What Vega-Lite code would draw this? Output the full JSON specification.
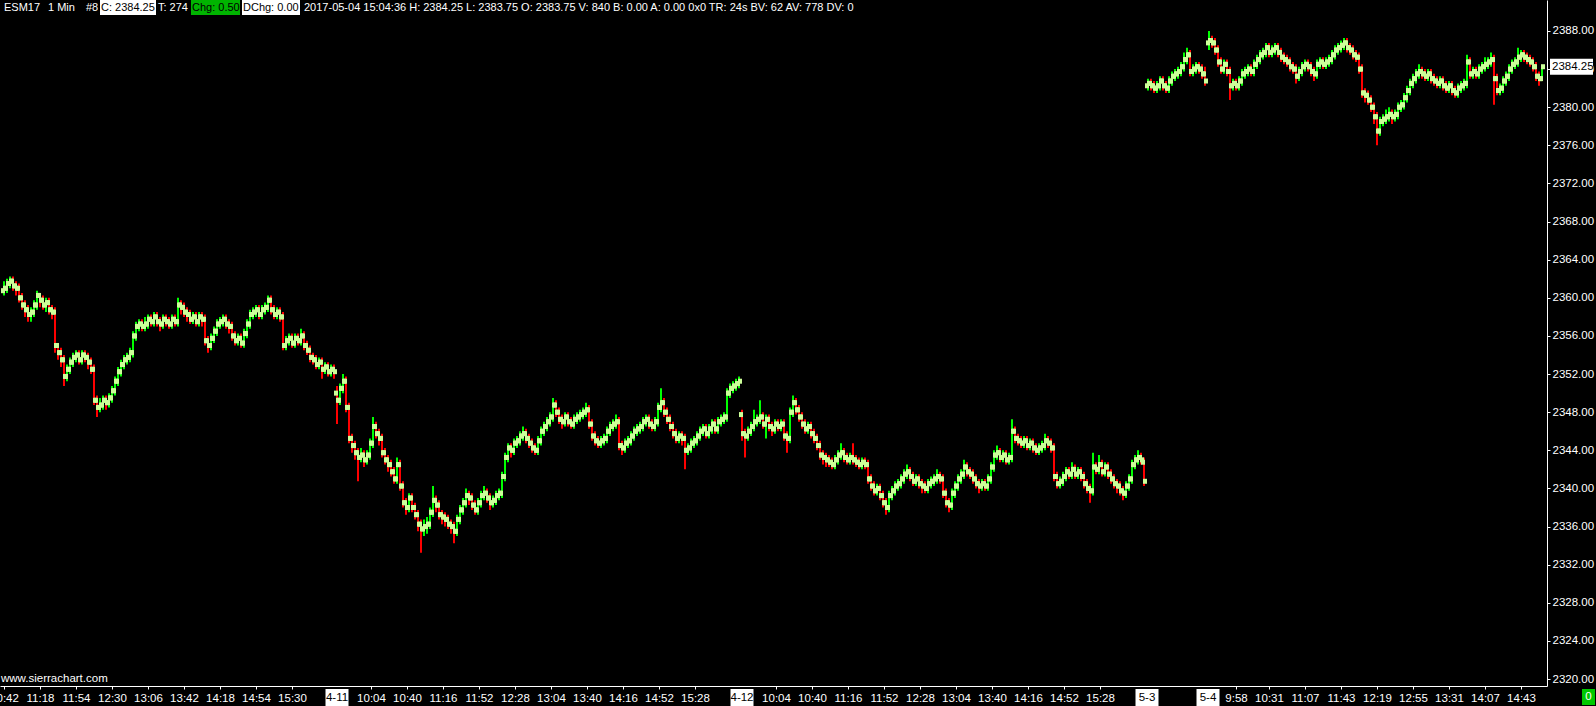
{
"$schema":"https://vega.github.io/schema/vega-lite/v6.json",
"width":1547,"height":686,
"padding":{"left":0,"top":0,"right":49,"bottom":20},
"autosize":{"type":"none"},
"background":"#000000",
"config":{"view":{"stroke":null},"font":"Liberation Sans","text":{"font":"Liberation Sans"}},
"datasets":{"bars":[
{"i":4,"o":2360.75,"h":2361.75,"l":2360.25,"c":2361},
{"i":7,"o":2361,"h":2362,"l":2360.5,"c":2361.5},
{"i":10,"o":2361.5,"h":2362.25,"l":2361,"c":2361.75},
{"i":13,"o":2361.75,"h":2362.25,"l":2360.75,"c":2361.25},
{"i":16,"o":2361.25,"h":2361.75,"l":2360.25,"c":2361},
{"i":19,"o":2361,"h":2361.5,"l":2359.5,"c":2360},
{"i":22,"o":2360,"h":2360.5,"l":2358.75,"c":2359.25},
{"i":25,"o":2359.25,"h":2359.75,"l":2358,"c":2358.75},
{"i":28,"o":2358.75,"h":2359.25,"l":2357.5,"c":2358.25},
{"i":31,"o":2358.25,"h":2359,"l":2357.5,"c":2358.5},
{"i":34,"o":2358.5,"h":2359.75,"l":2358,"c":2359.25},
{"i":37,"o":2359.25,"h":2360.75,"l":2358.75,"c":2360.25},
{"i":40,"o":2360.25,"h":2360.5,"l":2359,"c":2359.75},
{"i":43,"o":2359.75,"h":2360.25,"l":2358.75,"c":2359.25},
{"i":46,"o":2359.25,"h":2360,"l":2358.5,"c":2359.5},
{"i":49,"o":2359.5,"h":2360,"l":2358.25,"c":2358.75},
{"i":52,"o":2358.75,"h":2359.25,"l":2357.75,"c":2358.5},
{"i":55,"o":2358.5,"h":2359,"l":2354.25,"c":2355},
{"i":58,"o":2355,"h":2355.25,"l":2353.5,"c":2354.25},
{"i":61,"o":2354.25,"h":2354.75,"l":2352.75,"c":2353.5},
{"i":64,"o":2353.5,"h":2354,"l":2350.75,"c":2351.75},
{"i":67,"o":2351.75,"h":2353,"l":2351.25,"c":2352.5},
{"i":70,"o":2352.5,"h":2353.75,"l":2352,"c":2353.25},
{"i":73,"o":2353.25,"h":2354.25,"l":2352.75,"c":2353.75},
{"i":76,"o":2353.75,"h":2354.5,"l":2353.25,"c":2354},
{"i":79,"o":2354,"h":2354.5,"l":2353,"c":2353.5},
{"i":82,"o":2353.5,"h":2354.5,"l":2353,"c":2354},
{"i":85,"o":2354,"h":2354.5,"l":2353.25,"c":2353.75},
{"i":88,"o":2353.75,"h":2354.25,"l":2352.5,"c":2353.25},
{"i":91,"o":2353.25,"h":2353.75,"l":2352,"c":2352.5},
{"i":94,"o":2352.5,"h":2353,"l":2348.75,"c":2349.25},
{"i":97,"o":2349.25,"h":2349.75,"l":2347.5,"c":2348.5},
{"i":100,"o":2348.5,"h":2349.5,"l":2348,"c":2348.75},
{"i":103,"o":2348.75,"h":2349.75,"l":2348.25,"c":2349.25},
{"i":106,"o":2349.25,"h":2349.75,"l":2348.25,"c":2349},
{"i":109,"o":2349,"h":2350,"l":2348.5,"c":2349.5},
{"i":112,"o":2349.5,"h":2350.75,"l":2349,"c":2350.25},
{"i":115,"o":2350.25,"h":2351.75,"l":2349.75,"c":2351.25},
{"i":118,"o":2351.25,"h":2352.75,"l":2350.75,"c":2352.25},
{"i":121,"o":2352.25,"h":2353.5,"l":2351.75,"c":2353},
{"i":124,"o":2353,"h":2354,"l":2352.5,"c":2353.5},
{"i":127,"o":2353.5,"h":2354.25,"l":2353,"c":2353.75},
{"i":130,"o":2353.75,"h":2354.75,"l":2353.25,"c":2354.25},
{"i":133,"o":2354.25,"h":2356.5,"l":2353.75,"c":2356},
{"i":136,"o":2356,"h":2357.5,"l":2355.5,"c":2357},
{"i":139,"o":2357,"h":2357.75,"l":2356.5,"c":2357.25},
{"i":142,"o":2357.25,"h":2357.75,"l":2356.5,"c":2357},
{"i":145,"o":2357,"h":2358,"l":2356.5,"c":2357.25},
{"i":148,"o":2357.25,"h":2358.25,"l":2356.75,"c":2357.75},
{"i":151,"o":2357.75,"h":2358.25,"l":2357,"c":2357.5},
{"i":154,"o":2357.5,"h":2358.5,"l":2357,"c":2358},
{"i":157,"o":2358,"h":2358.5,"l":2357,"c":2357.5},
{"i":160,"o":2357.5,"h":2358,"l":2356.5,"c":2357.25},
{"i":163,"o":2357.25,"h":2358.25,"l":2356.75,"c":2357.75},
{"i":166,"o":2357.75,"h":2358.25,"l":2357,"c":2357.5},
{"i":169,"o":2357.5,"h":2358,"l":2356.75,"c":2357.25},
{"i":172,"o":2357.25,"h":2358.25,"l":2356.75,"c":2357.75},
{"i":175,"o":2357.75,"h":2358.25,"l":2357,"c":2357.5},
{"i":178,"o":2357.5,"h":2360,"l":2357,"c":2359.25},
{"i":181,"o":2359.25,"h":2359.75,"l":2358.25,"c":2359},
{"i":184,"o":2359,"h":2359.5,"l":2358,"c":2358.5},
{"i":187,"o":2358.5,"h":2359,"l":2357.5,"c":2358.25},
{"i":190,"o":2358.25,"h":2358.75,"l":2357.25,"c":2357.75},
{"i":193,"o":2357.75,"h":2358.5,"l":2357.25,"c":2358},
{"i":196,"o":2358,"h":2358.5,"l":2357,"c":2357.5},
{"i":199,"o":2357.5,"h":2358.5,"l":2357,"c":2358},
{"i":202,"o":2358,"h":2358.5,"l":2357,"c":2357.75},
{"i":205,"o":2357.75,"h":2358.25,"l":2355,"c":2355.5},
{"i":208,"o":2355.5,"h":2356,"l":2354.25,"c":2355},
{"i":211,"o":2355,"h":2356.25,"l":2354.5,"c":2355.75},
{"i":214,"o":2355.75,"h":2357,"l":2355.25,"c":2356.5},
{"i":217,"o":2356.5,"h":2357.75,"l":2356,"c":2357.25},
{"i":220,"o":2357.25,"h":2358,"l":2356.75,"c":2357.5},
{"i":223,"o":2357.5,"h":2358.25,"l":2357,"c":2357.75},
{"i":226,"o":2357.75,"h":2358.25,"l":2356.75,"c":2357.25},
{"i":229,"o":2357.25,"h":2357.75,"l":2356.25,"c":2357},
{"i":232,"o":2357,"h":2357.5,"l":2355.5,"c":2356},
{"i":235,"o":2356,"h":2356.5,"l":2355,"c":2355.5},
{"i":238,"o":2355.5,"h":2356.25,"l":2355,"c":2355.75},
{"i":241,"o":2355.75,"h":2356.25,"l":2354.75,"c":2355.25},
{"i":244,"o":2355.25,"h":2356.75,"l":2354.75,"c":2356.25},
{"i":247,"o":2356.25,"h":2357.75,"l":2355.75,"c":2357.25},
{"i":250,"o":2357.25,"h":2358.75,"l":2356.75,"c":2358.25},
{"i":253,"o":2358.25,"h":2359,"l":2357.75,"c":2358.5},
{"i":256,"o":2358.5,"h":2359.25,"l":2358,"c":2358.75},
{"i":259,"o":2358.75,"h":2359.25,"l":2357.75,"c":2358.25},
{"i":262,"o":2358.25,"h":2359.25,"l":2357.75,"c":2358.75},
{"i":265,"o":2358.75,"h":2359.5,"l":2358.25,"c":2359},
{"i":268,"o":2359,"h":2360.25,"l":2358.5,"c":2359.75},
{"i":271,"o":2359.75,"h":2360.25,"l":2358.25,"c":2358.75},
{"i":274,"o":2358.75,"h":2359.25,"l":2357.75,"c":2358.25},
{"i":277,"o":2358.25,"h":2359,"l":2357.75,"c":2358.5},
{"i":280,"o":2358.5,"h":2359,"l":2357.5,"c":2358},
{"i":283,"o":2358,"h":2358.5,"l":2354.5,"c":2355},
{"i":286,"o":2355,"h":2356,"l":2354.5,"c":2355.5},
{"i":289,"o":2355.5,"h":2356.25,"l":2355,"c":2355.75},
{"i":292,"o":2355.75,"h":2356.25,"l":2354.75,"c":2355.25},
{"i":295,"o":2355.25,"h":2356.25,"l":2354.75,"c":2355.75},
{"i":298,"o":2355.75,"h":2356.25,"l":2355,"c":2355.5},
{"i":301,"o":2355.5,"h":2356.75,"l":2355,"c":2356},
{"i":304,"o":2356,"h":2356.5,"l":2354.5,"c":2355},
{"i":307,"o":2355,"h":2355.5,"l":2354,"c":2354.5},
{"i":310,"o":2354.5,"h":2355,"l":2353.25,"c":2353.75},
{"i":313,"o":2353.75,"h":2354.25,"l":2353,"c":2353.5},
{"i":316,"o":2353.5,"h":2354,"l":2352.5,"c":2353},
{"i":319,"o":2353,"h":2353.75,"l":2352.5,"c":2353.25},
{"i":322,"o":2353.25,"h":2353.75,"l":2351.5,"c":2352.5},
{"i":325,"o":2352.5,"h":2353.25,"l":2352,"c":2352.75},
{"i":328,"o":2352.75,"h":2353.25,"l":2351.75,"c":2352.25},
{"i":331,"o":2352.25,"h":2353,"l":2351.75,"c":2352.5},
{"i":334,"o":2352.5,"h":2353,"l":2351.5,"c":2352.25},
{"i":337,"o":2350,"h":2350.75,"l":2346.75,"c":2349.25},
{"i":340,"o":2349.25,"h":2351,"l":2348.75,"c":2350.5},
{"i":343,"o":2350.5,"h":2352,"l":2350,"c":2351.25},
{"i":346,"o":2351.25,"h":2351.75,"l":2348,"c":2348.5},
{"i":349,"o":2348.5,"h":2349,"l":2344.75,"c":2345.25},
{"i":352,"o":2345.25,"h":2345.75,"l":2343.75,"c":2344.5},
{"i":355,"o":2344.5,"h":2345,"l":2343,"c":2343.75},
{"i":358,"o":2343.75,"h":2344.25,"l":2340.75,"c":2343.25},
{"i":361,"o":2343.25,"h":2344.25,"l":2342.75,"c":2343.5},
{"i":364,"o":2343.5,"h":2344,"l":2342.25,"c":2343},
{"i":367,"o":2343,"h":2344,"l":2342.5,"c":2343.5},
{"i":370,"o":2343.5,"h":2345.25,"l":2343,"c":2344.75},
{"i":373,"o":2344.75,"h":2347.5,"l":2344.25,"c":2346.5},
{"i":376,"o":2346.5,"h":2347,"l":2345.25,"c":2345.75},
{"i":379,"o":2345.75,"h":2346.25,"l":2344.5,"c":2345.25},
{"i":382,"o":2345.25,"h":2345.75,"l":2343.25,"c":2343.75},
{"i":385,"o":2343.75,"h":2344.25,"l":2342.5,"c":2343},
{"i":388,"o":2343,"h":2343.5,"l":2341.75,"c":2342.5},
{"i":391,"o":2342.5,"h":2343,"l":2341.25,"c":2341.75},
{"i":394,"o":2341.75,"h":2342.25,"l":2340.5,"c":2341},
{"i":397,"o":2341,"h":2343.25,"l":2340.5,"c":2342.5},
{"i":400,"o":2342.5,"h":2343,"l":2339.75,"c":2340.25},
{"i":403,"o":2340.25,"h":2340.75,"l":2338,"c":2338.5},
{"i":406,"o":2338.5,"h":2339,"l":2337.25,"c":2338},
{"i":409,"o":2338,"h":2339.5,"l":2337.5,"c":2339},
{"i":412,"o":2339,"h":2339.5,"l":2337.5,"c":2338},
{"i":415,"o":2338,"h":2338.5,"l":2336.75,"c":2337.25},
{"i":418,"o":2337.25,"h":2337.75,"l":2335.5,"c":2336.25},
{"i":421,"o":2336.25,"h":2336.75,"l":2333.25,"c":2335.75},
{"i":424,"o":2335.75,"h":2336.75,"l":2335,"c":2336},
{"i":427,"o":2336,"h":2337,"l":2335.25,"c":2336.25},
{"i":430,"o":2336.25,"h":2338,"l":2335.75,"c":2337.5},
{"i":433,"o":2337.5,"h":2340.25,"l":2337,"c":2338.75},
{"i":436,"o":2338.75,"h":2339.25,"l":2337.5,"c":2338.25},
{"i":439,"o":2338.25,"h":2338.75,"l":2336.75,"c":2337.25},
{"i":442,"o":2337.25,"h":2337.75,"l":2336.25,"c":2337},
{"i":445,"o":2337,"h":2337.5,"l":2336,"c":2336.75},
{"i":448,"o":2336.75,"h":2337.25,"l":2335.75,"c":2336.25},
{"i":451,"o":2336.25,"h":2336.75,"l":2335.25,"c":2336},
{"i":454,"o":2336,"h":2336.5,"l":2334.25,"c":2335.5},
{"i":457,"o":2335.5,"h":2337.25,"l":2335,"c":2336.75},
{"i":460,"o":2336.75,"h":2338.25,"l":2336.25,"c":2337.75},
{"i":463,"o":2337.75,"h":2339,"l":2337.25,"c":2338.5},
{"i":466,"o":2338.5,"h":2340,"l":2338,"c":2339.25},
{"i":469,"o":2339.25,"h":2339.75,"l":2338.25,"c":2339},
{"i":472,"o":2339,"h":2339.5,"l":2337.75,"c":2338.25},
{"i":475,"o":2338.25,"h":2338.75,"l":2337.25,"c":2337.75},
{"i":478,"o":2337.75,"h":2339,"l":2337.25,"c":2338.5},
{"i":481,"o":2338.5,"h":2339.75,"l":2338,"c":2339.25},
{"i":484,"o":2339.25,"h":2340.25,"l":2338.75,"c":2339.5},
{"i":487,"o":2339.5,"h":2340,"l":2338.5,"c":2339},
{"i":490,"o":2339,"h":2339.5,"l":2337.75,"c":2338.5},
{"i":493,"o":2338.5,"h":2339.25,"l":2338,"c":2338.75},
{"i":496,"o":2338.75,"h":2339.75,"l":2338.25,"c":2339.25},
{"i":499,"o":2339.25,"h":2340,"l":2338.75,"c":2339.5},
{"i":502,"o":2339.5,"h":2341.75,"l":2339,"c":2341.25},
{"i":505,"o":2341.25,"h":2343.75,"l":2340.75,"c":2343.25},
{"i":508,"o":2343.25,"h":2344.75,"l":2342.75,"c":2344.25},
{"i":511,"o":2344.25,"h":2344.75,"l":2343.25,"c":2344},
{"i":514,"o":2344,"h":2345.25,"l":2343.5,"c":2344.75},
{"i":517,"o":2344.75,"h":2345.5,"l":2344.25,"c":2345},
{"i":520,"o":2345,"h":2346,"l":2344.5,"c":2345.5},
{"i":523,"o":2345.5,"h":2346.5,"l":2345,"c":2345.75},
{"i":526,"o":2345.75,"h":2346.25,"l":2344.75,"c":2345.25},
{"i":529,"o":2345.25,"h":2345.75,"l":2344.25,"c":2344.75},
{"i":532,"o":2344.75,"h":2345.25,"l":2343.75,"c":2344.25},
{"i":535,"o":2344.25,"h":2344.75,"l":2343.5,"c":2344},
{"i":538,"o":2344,"h":2345.5,"l":2343.5,"c":2345},
{"i":541,"o":2345,"h":2346.5,"l":2344.5,"c":2346},
{"i":544,"o":2346,"h":2347,"l":2345.5,"c":2346.5},
{"i":547,"o":2346.5,"h":2347.5,"l":2346,"c":2347},
{"i":550,"o":2347,"h":2348,"l":2346.5,"c":2347.5},
{"i":553,"o":2347.5,"h":2349.5,"l":2347,"c":2348.75},
{"i":556,"o":2348.75,"h":2349.25,"l":2347.5,"c":2348},
{"i":559,"o":2348,"h":2348.5,"l":2346.75,"c":2347.25},
{"i":562,"o":2347.25,"h":2347.75,"l":2346.25,"c":2347},
{"i":565,"o":2347,"h":2348,"l":2346.5,"c":2347.5},
{"i":568,"o":2347.5,"h":2348,"l":2346.5,"c":2347},
{"i":571,"o":2347,"h":2347.5,"l":2346.25,"c":2346.75},
{"i":574,"o":2346.75,"h":2347.75,"l":2346.25,"c":2347.25},
{"i":577,"o":2347.25,"h":2348,"l":2346.75,"c":2347.5},
{"i":580,"o":2347.5,"h":2348.25,"l":2347,"c":2347.75},
{"i":583,"o":2347.75,"h":2348.5,"l":2347.25,"c":2348},
{"i":586,"o":2348,"h":2349,"l":2347.5,"c":2348.25},
{"i":589,"o":2348.25,"h":2348.75,"l":2346.25,"c":2346.75},
{"i":592,"o":2346.75,"h":2347.25,"l":2345,"c":2345.5},
{"i":595,"o":2345.5,"h":2346,"l":2344.5,"c":2345},
{"i":598,"o":2345,"h":2345.5,"l":2344.25,"c":2344.75},
{"i":601,"o":2344.75,"h":2345.5,"l":2344.25,"c":2345},
{"i":604,"o":2345,"h":2345.75,"l":2344.5,"c":2345.25},
{"i":607,"o":2345.25,"h":2346.5,"l":2344.75,"c":2346},
{"i":610,"o":2346,"h":2347,"l":2345.5,"c":2346.5},
{"i":613,"o":2346.5,"h":2347.25,"l":2346,"c":2346.75},
{"i":616,"o":2346.75,"h":2347.75,"l":2346.25,"c":2347},
{"i":619,"o":2347,"h":2347.5,"l":2344,"c":2344.5},
{"i":622,"o":2344.5,"h":2345,"l":2343.5,"c":2344.25},
{"i":625,"o":2344.25,"h":2345.25,"l":2343.75,"c":2344.75},
{"i":628,"o":2344.75,"h":2345.5,"l":2344.25,"c":2345},
{"i":631,"o":2345,"h":2346,"l":2344.5,"c":2345.5},
{"i":634,"o":2345.5,"h":2346.5,"l":2345,"c":2346},
{"i":637,"o":2346,"h":2346.75,"l":2345.5,"c":2346.25},
{"i":640,"o":2346.25,"h":2347,"l":2345.75,"c":2346.5},
{"i":643,"o":2346.5,"h":2347.5,"l":2346,"c":2347},
{"i":646,"o":2347,"h":2347.75,"l":2346.5,"c":2347.25},
{"i":649,"o":2347.25,"h":2347.75,"l":2346.25,"c":2346.75},
{"i":652,"o":2346.75,"h":2347.25,"l":2346,"c":2346.5},
{"i":655,"o":2346.5,"h":2347.5,"l":2346,"c":2347},
{"i":658,"o":2347,"h":2349,"l":2346.5,"c":2348.5},
{"i":661,"o":2348.5,"h":2350.5,"l":2348,"c":2349},
{"i":664,"o":2349,"h":2349.5,"l":2347.5,"c":2348},
{"i":667,"o":2348,"h":2348.5,"l":2346.75,"c":2347.25},
{"i":670,"o":2347.25,"h":2347.75,"l":2346,"c":2346.5},
{"i":673,"o":2346.5,"h":2347,"l":2345.25,"c":2345.75},
{"i":676,"o":2345.75,"h":2346.25,"l":2344.75,"c":2345.25},
{"i":679,"o":2345.25,"h":2346,"l":2344.75,"c":2345.5},
{"i":682,"o":2345.5,"h":2346,"l":2344.5,"c":2345.25},
{"i":685,"o":2345.25,"h":2345.75,"l":2342,"c":2344},
{"i":688,"o":2344,"h":2344.75,"l":2343.5,"c":2344.25},
{"i":691,"o":2344.25,"h":2345.25,"l":2343.75,"c":2344.75},
{"i":694,"o":2344.75,"h":2345.5,"l":2344.25,"c":2345},
{"i":697,"o":2345,"h":2346,"l":2344.5,"c":2345.5},
{"i":700,"o":2345.5,"h":2346.5,"l":2345,"c":2346},
{"i":703,"o":2346,"h":2346.75,"l":2345.5,"c":2346.25},
{"i":706,"o":2346.25,"h":2346.75,"l":2345.25,"c":2345.75},
{"i":709,"o":2345.75,"h":2346.75,"l":2345.25,"c":2346.25},
{"i":712,"o":2346.25,"h":2347.25,"l":2345.75,"c":2346.75},
{"i":715,"o":2346.75,"h":2347.25,"l":2345.75,"c":2346.25},
{"i":718,"o":2346.25,"h":2347.5,"l":2345.75,"c":2347},
{"i":721,"o":2347,"h":2347.75,"l":2346.5,"c":2347.25},
{"i":724,"o":2347.25,"h":2348,"l":2346.75,"c":2347.5},
{"i":727,"o":2347.5,"h":2350.5,"l":2347,"c":2350},
{"i":730,"o":2350,"h":2351,"l":2349.5,"c":2350.5},
{"i":733,"o":2350.5,"h":2351.25,"l":2350,"c":2350.75},
{"i":736,"o":2350.75,"h":2351.5,"l":2350.25,"c":2351},
{"i":739,"o":2351,"h":2351.75,"l":2350.5,"c":2351.25},
{"i":742,"o":2347.75,"h":2348.25,"l":2345,"c":2345.75},
{"i":745,"o":2345.75,"h":2346.25,"l":2343.25,"c":2345.5},
{"i":748,"o":2345.5,"h":2346.5,"l":2345,"c":2346},
{"i":751,"o":2346,"h":2347,"l":2345.5,"c":2346.5},
{"i":754,"o":2346.5,"h":2348.25,"l":2346,"c":2347},
{"i":757,"o":2347,"h":2347.75,"l":2346.5,"c":2347.25},
{"i":760,"o":2347.25,"h":2349.25,"l":2346.75,"c":2347.5},
{"i":763,"o":2347.5,"h":2348,"l":2346.25,"c":2346.75},
{"i":766,"o":2346.75,"h":2347.75,"l":2345.25,"c":2347.25},
{"i":769,"o":2347.25,"h":2347.75,"l":2346,"c":2346.5},
{"i":772,"o":2346.5,"h":2347,"l":2345.5,"c":2346.25},
{"i":775,"o":2346.25,"h":2347.25,"l":2345.75,"c":2346.75},
{"i":778,"o":2346.75,"h":2347.25,"l":2346,"c":2346.5},
{"i":781,"o":2346.5,"h":2347.25,"l":2346,"c":2346.75},
{"i":784,"o":2346.75,"h":2347.25,"l":2345,"c":2345.5},
{"i":787,"o":2345.5,"h":2346,"l":2343.75,"c":2345.25},
{"i":790,"o":2345.25,"h":2348.5,"l":2344.75,"c":2348},
{"i":793,"o":2348,"h":2349.75,"l":2347.5,"c":2349},
{"i":796,"o":2349,"h":2349.5,"l":2347.75,"c":2348.25},
{"i":799,"o":2348.25,"h":2348.75,"l":2347,"c":2347.5},
{"i":802,"o":2347.5,"h":2348,"l":2346.25,"c":2346.75},
{"i":805,"o":2346.75,"h":2347.25,"l":2345.75,"c":2346.25},
{"i":808,"o":2346.25,"h":2347,"l":2345.75,"c":2346.5},
{"i":811,"o":2346.5,"h":2347,"l":2345.25,"c":2345.75},
{"i":814,"o":2345.75,"h":2346.25,"l":2344.75,"c":2345.25},
{"i":817,"o":2345.25,"h":2345.75,"l":2344,"c":2344.5},
{"i":820,"o":2344.5,"h":2345,"l":2343,"c":2343.5},
{"i":823,"o":2343.5,"h":2344,"l":2342.5,"c":2343.25},
{"i":826,"o":2343.25,"h":2343.75,"l":2342.25,"c":2343},
{"i":829,"o":2343,"h":2343.5,"l":2342.25,"c":2342.75},
{"i":832,"o":2342.75,"h":2343.25,"l":2342,"c":2342.5},
{"i":835,"o":2342.5,"h":2343.5,"l":2342,"c":2343},
{"i":838,"o":2343,"h":2344,"l":2342.5,"c":2343.5},
{"i":841,"o":2343.5,"h":2344.75,"l":2343,"c":2343.75},
{"i":844,"o":2343.75,"h":2344.25,"l":2342.75,"c":2343.25},
{"i":847,"o":2343.25,"h":2343.75,"l":2342.5,"c":2343},
{"i":850,"o":2343,"h":2343.75,"l":2342.5,"c":2343.25},
{"i":853,"o":2343.25,"h":2344.75,"l":2342.5,"c":2343},
{"i":856,"o":2343,"h":2343.5,"l":2342.25,"c":2342.75},
{"i":859,"o":2342.75,"h":2343.25,"l":2342,"c":2342.5},
{"i":862,"o":2342.5,"h":2343.25,"l":2342,"c":2342.75},
{"i":865,"o":2342.75,"h":2343.25,"l":2342,"c":2342.5},
{"i":868,"o":2342.5,"h":2343,"l":2340.5,"c":2341},
{"i":871,"o":2341,"h":2341.5,"l":2339.75,"c":2340.25},
{"i":874,"o":2340.25,"h":2340.75,"l":2339.25,"c":2339.75},
{"i":877,"o":2339.75,"h":2340.5,"l":2339.25,"c":2340},
{"i":880,"o":2340,"h":2340.5,"l":2338.75,"c":2339.25},
{"i":883,"o":2339.25,"h":2339.75,"l":2338,"c":2338.5},
{"i":886,"o":2338.5,"h":2339,"l":2337.25,"c":2338},
{"i":889,"o":2338,"h":2339.75,"l":2337.5,"c":2339.25},
{"i":892,"o":2339.25,"h":2340.25,"l":2338.75,"c":2339.75},
{"i":895,"o":2339.75,"h":2340.75,"l":2339.25,"c":2340.25},
{"i":898,"o":2340.25,"h":2341,"l":2339.75,"c":2340.5},
{"i":901,"o":2340.5,"h":2341.5,"l":2340,"c":2341},
{"i":904,"o":2341,"h":2342,"l":2340.5,"c":2341.5},
{"i":907,"o":2341.5,"h":2342.5,"l":2341,"c":2341.75},
{"i":910,"o":2341.75,"h":2342.25,"l":2340.75,"c":2341.25},
{"i":913,"o":2341.25,"h":2341.75,"l":2340.25,"c":2340.75},
{"i":916,"o":2340.75,"h":2341.5,"l":2340.25,"c":2341},
{"i":919,"o":2341,"h":2341.5,"l":2340,"c":2340.5},
{"i":922,"o":2340.5,"h":2341,"l":2339.5,"c":2340.25},
{"i":925,"o":2340.25,"h":2340.75,"l":2339.5,"c":2340},
{"i":928,"o":2340,"h":2341,"l":2339.5,"c":2340.5},
{"i":931,"o":2340.5,"h":2341.25,"l":2340,"c":2340.75},
{"i":934,"o":2340.75,"h":2341.5,"l":2340.25,"c":2341},
{"i":937,"o":2341,"h":2342,"l":2340.5,"c":2341.25},
{"i":940,"o":2341.25,"h":2341.75,"l":2340.5,"c":2341},
{"i":943,"o":2341,"h":2341.5,"l":2339,"c":2339.5},
{"i":946,"o":2339.5,"h":2340,"l":2338,"c":2338.5},
{"i":949,"o":2338.5,"h":2339,"l":2337.5,"c":2338.25},
{"i":952,"o":2338.25,"h":2340,"l":2337.75,"c":2339.5},
{"i":955,"o":2339.5,"h":2340.75,"l":2339,"c":2340.25},
{"i":958,"o":2340.25,"h":2341.5,"l":2339.75,"c":2341},
{"i":961,"o":2341,"h":2342,"l":2340.5,"c":2341.5},
{"i":964,"o":2341.5,"h":2343,"l":2341,"c":2342.25},
{"i":967,"o":2342.25,"h":2342.75,"l":2341.25,"c":2341.75},
{"i":970,"o":2341.75,"h":2342.25,"l":2341,"c":2341.5},
{"i":973,"o":2341.5,"h":2342,"l":2340.5,"c":2341},
{"i":976,"o":2341,"h":2341.5,"l":2340,"c":2340.5},
{"i":979,"o":2340.5,"h":2341,"l":2339.5,"c":2340.25},
{"i":982,"o":2340.25,"h":2341,"l":2339.75,"c":2340.5},
{"i":985,"o":2340.5,"h":2341,"l":2339.75,"c":2340.25},
{"i":988,"o":2340.25,"h":2341.5,"l":2339.75,"c":2341},
{"i":991,"o":2341,"h":2342.75,"l":2340.5,"c":2342.25},
{"i":994,"o":2342.25,"h":2344,"l":2341.75,"c":2343.5},
{"i":997,"o":2343.5,"h":2344.5,"l":2343,"c":2343.75},
{"i":1000,"o":2343.75,"h":2344.25,"l":2342.75,"c":2343.25},
{"i":1003,"o":2343.25,"h":2344,"l":2342.75,"c":2343.5},
{"i":1006,"o":2343.5,"h":2344,"l":2342.5,"c":2343},
{"i":1009,"o":2343,"h":2343.75,"l":2342.5,"c":2343.25},
{"i":1012,"o":2343.25,"h":2347.25,"l":2342.75,"c":2346},
{"i":1015,"o":2346,"h":2346.5,"l":2344.75,"c":2345.25},
{"i":1018,"o":2345.25,"h":2345.75,"l":2344.5,"c":2345},
{"i":1021,"o":2345,"h":2345.5,"l":2344.25,"c":2344.75},
{"i":1024,"o":2344.75,"h":2345.5,"l":2344.25,"c":2345},
{"i":1027,"o":2345,"h":2345.5,"l":2344,"c":2344.5},
{"i":1030,"o":2344.5,"h":2345.25,"l":2344,"c":2344.75},
{"i":1033,"o":2344.75,"h":2345.25,"l":2343.75,"c":2344.25},
{"i":1036,"o":2344.25,"h":2344.75,"l":2343.5,"c":2344},
{"i":1039,"o":2344,"h":2344.75,"l":2343.5,"c":2344.25},
{"i":1042,"o":2344.25,"h":2345,"l":2343.75,"c":2344.5},
{"i":1045,"o":2344.5,"h":2345.75,"l":2344,"c":2345},
{"i":1048,"o":2345,"h":2345.5,"l":2344.25,"c":2344.75},
{"i":1051,"o":2344.75,"h":2345.25,"l":2343.75,"c":2344.25},
{"i":1054,"o":2344.25,"h":2344.75,"l":2340.75,"c":2341.25},
{"i":1057,"o":2341.25,"h":2341.75,"l":2340,"c":2340.5},
{"i":1060,"o":2340.5,"h":2341.25,"l":2340,"c":2340.75},
{"i":1063,"o":2340.75,"h":2341.75,"l":2340.25,"c":2341.25},
{"i":1066,"o":2341.25,"h":2342.25,"l":2340.75,"c":2341.75},
{"i":1069,"o":2341.75,"h":2342.25,"l":2341,"c":2341.5},
{"i":1072,"o":2341.5,"h":2342.75,"l":2341,"c":2342},
{"i":1075,"o":2342,"h":2342.5,"l":2341,"c":2341.5},
{"i":1078,"o":2341.5,"h":2342.25,"l":2341,"c":2341.75},
{"i":1081,"o":2341.75,"h":2342.25,"l":2340.75,"c":2341.25},
{"i":1084,"o":2341.25,"h":2341.75,"l":2340,"c":2340.5},
{"i":1087,"o":2340.5,"h":2341,"l":2339.5,"c":2340},
{"i":1090,"o":2340,"h":2340.5,"l":2338.5,"c":2339.75},
{"i":1093,"o":2339.75,"h":2343.75,"l":2339.25,"c":2342.25},
{"i":1096,"o":2342.25,"h":2342.75,"l":2341.5,"c":2342},
{"i":1099,"o":2342,"h":2343.5,"l":2341.5,"c":2342.5},
{"i":1102,"o":2342.5,"h":2343,"l":2341.25,"c":2341.75},
{"i":1105,"o":2341.75,"h":2342.75,"l":2341.25,"c":2342.25},
{"i":1108,"o":2342.25,"h":2342.75,"l":2341,"c":2341.5},
{"i":1111,"o":2341.5,"h":2342,"l":2340.5,"c":2341},
{"i":1114,"o":2341,"h":2341.5,"l":2340,"c":2340.5},
{"i":1117,"o":2340.5,"h":2341,"l":2339.5,"c":2340.25},
{"i":1120,"o":2340.25,"h":2340.75,"l":2339.25,"c":2339.75},
{"i":1123,"o":2339.75,"h":2340.25,"l":2338.75,"c":2339.5},
{"i":1126,"o":2339.5,"h":2340.75,"l":2339,"c":2340.25},
{"i":1129,"o":2340.25,"h":2341.5,"l":2339.75,"c":2341},
{"i":1132,"o":2341,"h":2343,"l":2340.5,"c":2342.5},
{"i":1135,"o":2342.5,"h":2343.5,"l":2342,"c":2343},
{"i":1138,"o":2343,"h":2344,"l":2342.5,"c":2343.25},
{"i":1141,"o":2343.25,"h":2343.75,"l":2342.5,"c":2343},
{"i":1144,"o":2342.75,"h":2343.25,"l":2340.25,"c":2340.75},
{"i":1148,"o":2382.25,"h":2383,"l":2381.75,"c":2382.5},
{"i":1151,"o":2382.5,"h":2383,"l":2381.75,"c":2382.25},
{"i":1154,"o":2382.25,"h":2382.75,"l":2381.5,"c":2382},
{"i":1157,"o":2382,"h":2382.75,"l":2381.5,"c":2382.25},
{"i":1160,"o":2382.25,"h":2383.25,"l":2381.75,"c":2382.75},
{"i":1163,"o":2382.75,"h":2383.25,"l":2381.75,"c":2382.25},
{"i":1166,"o":2382.25,"h":2382.75,"l":2381.5,"c":2382},
{"i":1169,"o":2382,"h":2383.25,"l":2381.5,"c":2382.75},
{"i":1172,"o":2382.75,"h":2383.75,"l":2382.25,"c":2383.25},
{"i":1175,"o":2383.25,"h":2384,"l":2382.75,"c":2383.5},
{"i":1178,"o":2383.5,"h":2384.25,"l":2383,"c":2383.75},
{"i":1181,"o":2383.75,"h":2384.75,"l":2383.25,"c":2384.25},
{"i":1184,"o":2384.25,"h":2385.75,"l":2383.75,"c":2385},
{"i":1187,"o":2385,"h":2386.25,"l":2384.5,"c":2385.5},
{"i":1190,"o":2385.5,"h":2386,"l":2383.25,"c":2383.75},
{"i":1193,"o":2383.75,"h":2384.5,"l":2383.25,"c":2384},
{"i":1196,"o":2384,"h":2384.75,"l":2383.5,"c":2384.25},
{"i":1199,"o":2384.25,"h":2384.75,"l":2383.5,"c":2384},
{"i":1202,"o":2384,"h":2384.5,"l":2383,"c":2383.5},
{"i":1205,"o":2383.5,"h":2384.25,"l":2382.25,"c":2382.75},
{"i":1209,"o":2386.75,"h":2388,"l":2386,"c":2387},
{"i":1212,"o":2387,"h":2387.5,"l":2386.25,"c":2386.75},
{"i":1215,"o":2386.75,"h":2387.25,"l":2385.5,"c":2386},
{"i":1218,"o":2386,"h":2386.5,"l":2384.25,"c":2384.75},
{"i":1221,"o":2384.75,"h":2385.25,"l":2383.5,"c":2384},
{"i":1224,"o":2384,"h":2385,"l":2383.5,"c":2384.5},
{"i":1227,"o":2384.5,"h":2385,"l":2383.25,"c":2383.75},
{"i":1230,"o":2383.75,"h":2384.25,"l":2380.75,"c":2382.25},
{"i":1233,"o":2382.25,"h":2383,"l":2381.75,"c":2382.5},
{"i":1236,"o":2382.5,"h":2383,"l":2381.75,"c":2382.25},
{"i":1239,"o":2382.25,"h":2383.25,"l":2381.75,"c":2382.75},
{"i":1242,"o":2382.75,"h":2384,"l":2382.25,"c":2383.5},
{"i":1245,"o":2383.5,"h":2384.25,"l":2383,"c":2383.75},
{"i":1248,"o":2383.75,"h":2384.5,"l":2383.25,"c":2384},
{"i":1251,"o":2384,"h":2384.5,"l":2383.25,"c":2383.75},
{"i":1254,"o":2383.75,"h":2385,"l":2383.25,"c":2384.5},
{"i":1257,"o":2384.5,"h":2385.5,"l":2384,"c":2385},
{"i":1260,"o":2385,"h":2386,"l":2384.5,"c":2385.5},
{"i":1263,"o":2385.5,"h":2386.25,"l":2385,"c":2385.75},
{"i":1266,"o":2385.75,"h":2386.75,"l":2385.25,"c":2386.25},
{"i":1269,"o":2386.25,"h":2386.75,"l":2385.25,"c":2385.75},
{"i":1272,"o":2385.75,"h":2386.5,"l":2385.25,"c":2386},
{"i":1275,"o":2386,"h":2386.75,"l":2385.5,"c":2386.25},
{"i":1278,"o":2386.25,"h":2386.75,"l":2385.25,"c":2385.75},
{"i":1281,"o":2385.75,"h":2386.25,"l":2384.75,"c":2385.25},
{"i":1284,"o":2385.25,"h":2385.75,"l":2384.5,"c":2385},
{"i":1287,"o":2385,"h":2385.5,"l":2384.25,"c":2384.75},
{"i":1290,"o":2384.75,"h":2385.25,"l":2383.75,"c":2384.25},
{"i":1293,"o":2384.25,"h":2384.75,"l":2383.5,"c":2384},
{"i":1296,"o":2384,"h":2384.5,"l":2382.5,"c":2383.25},
{"i":1299,"o":2383.25,"h":2384.25,"l":2382.75,"c":2383.75},
{"i":1302,"o":2383.75,"h":2384.75,"l":2383.25,"c":2384.25},
{"i":1305,"o":2384.25,"h":2385,"l":2383.75,"c":2384.5},
{"i":1308,"o":2384.5,"h":2385,"l":2383.75,"c":2384.25},
{"i":1311,"o":2384.25,"h":2384.75,"l":2383.25,"c":2383.75},
{"i":1314,"o":2383.75,"h":2384.25,"l":2382.75,"c":2383.5},
{"i":1317,"o":2383.5,"h":2385,"l":2383,"c":2384.5},
{"i":1320,"o":2384.5,"h":2385.25,"l":2384,"c":2384.75},
{"i":1323,"o":2384.75,"h":2385.25,"l":2384,"c":2384.5},
{"i":1326,"o":2384.5,"h":2385.25,"l":2384,"c":2384.75},
{"i":1329,"o":2384.75,"h":2385.5,"l":2384.25,"c":2385},
{"i":1332,"o":2385,"h":2386,"l":2384.5,"c":2385.5},
{"i":1335,"o":2385.5,"h":2386.5,"l":2385,"c":2386},
{"i":1338,"o":2386,"h":2386.75,"l":2385.5,"c":2386.25},
{"i":1341,"o":2386.25,"h":2387,"l":2385.75,"c":2386.5},
{"i":1344,"o":2386.5,"h":2387.25,"l":2386,"c":2386.75},
{"i":1347,"o":2386.75,"h":2387.25,"l":2385.75,"c":2386.25},
{"i":1350,"o":2386.25,"h":2386.75,"l":2385.5,"c":2386},
{"i":1353,"o":2386,"h":2386.5,"l":2385,"c":2385.5},
{"i":1356,"o":2385.5,"h":2386,"l":2384.75,"c":2385.25},
{"i":1359,"o":2385.25,"h":2385.75,"l":2383.5,"c":2384},
{"i":1362,"o":2384,"h":2384.5,"l":2381,"c":2381.5},
{"i":1365,"o":2381.5,"h":2382,"l":2380.5,"c":2381.25},
{"i":1368,"o":2381.25,"h":2381.75,"l":2380.25,"c":2380.75},
{"i":1371,"o":2380.75,"h":2381.25,"l":2379.5,"c":2380},
{"i":1374,"o":2380,"h":2380.5,"l":2378.25,"c":2379},
{"i":1377,"o":2379,"h":2379.5,"l":2376,"c":2377.5},
{"i":1380,"o":2377.5,"h":2379,"l":2377,"c":2378.5},
{"i":1383,"o":2378.5,"h":2379.25,"l":2378,"c":2378.75},
{"i":1386,"o":2378.75,"h":2379.75,"l":2378.25,"c":2379},
{"i":1389,"o":2379,"h":2380,"l":2378.5,"c":2379.25},
{"i":1392,"o":2379.25,"h":2379.75,"l":2378.25,"c":2379},
{"i":1395,"o":2379,"h":2379.75,"l":2378.5,"c":2379.25},
{"i":1398,"o":2379.25,"h":2380.5,"l":2378.75,"c":2380},
{"i":1401,"o":2380,"h":2380.75,"l":2379.5,"c":2380.25},
{"i":1404,"o":2380.25,"h":2381.5,"l":2379.75,"c":2381},
{"i":1407,"o":2381,"h":2382.25,"l":2380.5,"c":2381.75},
{"i":1410,"o":2381.75,"h":2383,"l":2381.25,"c":2382.5},
{"i":1413,"o":2382.5,"h":2383.5,"l":2382,"c":2383},
{"i":1416,"o":2383,"h":2384,"l":2382.5,"c":2383.5},
{"i":1419,"o":2383.5,"h":2384.5,"l":2383,"c":2383.75},
{"i":1422,"o":2383.75,"h":2384.25,"l":2383,"c":2383.5},
{"i":1425,"o":2383.5,"h":2384,"l":2382.75,"c":2383.25},
{"i":1428,"o":2383.25,"h":2384,"l":2382.75,"c":2383.5},
{"i":1431,"o":2383.5,"h":2384,"l":2382.5,"c":2383},
{"i":1434,"o":2383,"h":2383.5,"l":2382.25,"c":2382.75},
{"i":1437,"o":2382.75,"h":2383.25,"l":2382,"c":2382.5},
{"i":1440,"o":2382.5,"h":2383.25,"l":2382,"c":2382.75},
{"i":1443,"o":2382.75,"h":2383.25,"l":2381.75,"c":2382.25},
{"i":1446,"o":2382.25,"h":2382.75,"l":2381.5,"c":2382},
{"i":1449,"o":2382,"h":2382.75,"l":2381.5,"c":2382.25},
{"i":1452,"o":2382.25,"h":2382.75,"l":2381.25,"c":2381.75},
{"i":1455,"o":2381.75,"h":2382.25,"l":2381,"c":2381.5},
{"i":1458,"o":2381.5,"h":2382.5,"l":2381,"c":2382},
{"i":1461,"o":2382,"h":2382.75,"l":2381.5,"c":2382.25},
{"i":1464,"o":2382.25,"h":2383,"l":2381.75,"c":2382.5},
{"i":1467,"o":2382.5,"h":2385.5,"l":2382,"c":2384.75},
{"i":1470,"o":2384.75,"h":2385.25,"l":2383,"c":2383.5},
{"i":1473,"o":2383.5,"h":2384.25,"l":2383,"c":2383.75},
{"i":1476,"o":2383.75,"h":2384.25,"l":2383,"c":2383.5},
{"i":1479,"o":2383.5,"h":2384.5,"l":2383,"c":2384},
{"i":1482,"o":2384,"h":2384.75,"l":2383.5,"c":2384.25},
{"i":1485,"o":2384.25,"h":2385.25,"l":2383.75,"c":2384.5},
{"i":1488,"o":2384.5,"h":2385.25,"l":2384,"c":2384.75},
{"i":1491,"o":2384.75,"h":2385.75,"l":2384.25,"c":2385},
{"i":1494,"o":2385,"h":2385.5,"l":2380.25,"c":2383},
{"i":1497,"o":2383,"h":2383.5,"l":2381.25,"c":2381.75},
{"i":1500,"o":2381.75,"h":2382.5,"l":2381.25,"c":2382},
{"i":1503,"o":2382,"h":2383.25,"l":2381.5,"c":2382.75},
{"i":1506,"o":2382.75,"h":2383.75,"l":2382.25,"c":2383.25},
{"i":1509,"o":2383.25,"h":2384.5,"l":2382.75,"c":2384},
{"i":1512,"o":2384,"h":2385,"l":2383.5,"c":2384.5},
{"i":1515,"o":2384.5,"h":2385.25,"l":2384,"c":2384.75},
{"i":1518,"o":2384.75,"h":2386.25,"l":2384.25,"c":2385.25},
{"i":1521,"o":2385.25,"h":2386,"l":2384.75,"c":2385.5},
{"i":1524,"o":2385.5,"h":2386,"l":2384.75,"c":2385.25},
{"i":1527,"o":2385.25,"h":2385.75,"l":2384.5,"c":2385},
{"i":1530,"o":2385,"h":2385.5,"l":2384.25,"c":2384.75},
{"i":1533,"o":2384.75,"h":2385.25,"l":2383.75,"c":2384.25},
{"i":1536,"o":2384.25,"h":2384.75,"l":2382.75,"c":2383.25},
{"i":1539,"o":2383.25,"h":2383.75,"l":2382.25,"c":2383},
{"i":1542,"o":2383,"h":2384.25,"l":2382.75,"c":2384.25}
]},
"layer":[
{"data":{"name":"bars"},
 "mark":{"type":"rule","strokeWidth":2},
 "encoding":{
  "x":{"field":"i","type":"quantitative","scale":{"domain":[0,1547],"nice":false,"zero":false},
   "axis":{"orient":"bottom","title":null,"grid":false,
    "values":[4,40,76,112,148,184,220,256,292,371,407,443,479,515,551,587,623,659,695,776,812,848,884,920,956,992,1028,1064,1100,1236,1269,1305,1341,1377,1413,1449,1485,1521],
    "labelExpr":"['10:42','11:18','11:54','12:30','13:06','13:42','14:18','14:54','15:30','10:04','10:40','11:16','11:52','12:28','13:04','13:40','14:16','14:52','15:28','10:04','10:40','11:16','11:52','12:28','13:04','13:40','14:16','14:52','15:28','9:58','10:31','11:07','11:43','12:19','12:55','13:31','14:07','14:43'][indexof([4,40,76,112,148,184,220,256,292,371,407,443,479,515,551,587,623,659,695,776,812,848,884,920,956,992,1028,1064,1100,1236,1269,1305,1341,1377,1413,1449,1485,1521], datum.value)]",
    "labelFlush":false,"labelOverlap":false,"labelColor":"#ffffff","labelFont":"Liberation Sans","labelFontSize":11.5,
    "tickColor":"#ffffff","tickSize":3,"domainColor":"#ffffff","domainWidth":1,"labelPadding":3}},
  "y":{"field":"l","type":"quantitative","scale":{"domain":[2319.27,2391.25],"nice":false,"zero":false},
   "axis":{"orient":"right","title":null,"grid":false,
    "values":[2320,2324,2328,2332,2336,2340,2344,2348,2352,2356,2360,2364,2368,2372,2376,2380,2384,2388],
    "format":".2f","labelFlush":false,"labelOverlap":false,"labelColor":"#ffffff","labelFont":"Liberation Sans","labelFontSize":11.5,
    "tickColor":"#ffffff","tickSize":3,"domainColor":"#ffffff","domainWidth":1,"labelPadding":2}},
  "y2":{"field":"h"},
  "color":{"condition":{"test":"datum.c >= datum.o","value":"#00ff00"},"value":"#ff0000"}
 }},
{"data":{"name":"bars"},
 "mark":{"type":"tick","orient":"horizontal","size":4,"thickness":5,"color":"#ccff99","xOffset":-1,"opacity":1},
 "encoding":{"x":{"field":"i","type":"quantitative"},"y":{"field":"o","type":"quantitative"}}},
{"data":{"name":"bars"},
 "mark":{"type":"tick","orient":"horizontal","size":4,"thickness":5,"color":"#ccff99","xOffset":1,"opacity":1},
 "encoding":{"x":{"field":"i","type":"quantitative"},"y":{"field":"c","type":"quantitative"}}},
{"data":{"values":[{"i":337,"d":"4-11"},{"i":742,"d":"4-12"},{"i":1147,"d":"5-3"},{"i":1208,"d":"5-4"}]},
 "mark":{"type":"tick","orient":"vertical","thickness":23,"size":17,"color":"#ffffff","opacity":1},
 "encoding":{"x":{"field":"i","type":"quantitative"},"y":{"value":697.5}}},
{"data":{"values":[{"i":337,"d":"4-11"},{"i":742,"d":"4-12"},{"i":1147,"d":"5-3"},{"i":1208,"d":"5-4"}]},
 "mark":{"type":"text","color":"#000000","fontSize":11.5,"align":"center","baseline":"middle"},
 "encoding":{"x":{"field":"i","type":"quantitative"},"y":{"value":698},"text":{"field":"d"}}},
{"data":{"values":[{"p":2384.25}]},
 "mark":{"type":"tick","orient":"vertical","thickness":43,"size":16,"color":"#ffffff","opacity":1},
 "encoding":{"x":{"value":1571.5},"y":{"field":"p","type":"quantitative"}}},
{"data":{"values":[{"p":2384.25}]},
 "mark":{"type":"text","color":"#000000","fontSize":11.5,"align":"left","baseline":"middle"},
 "encoding":{"x":{"value":1552},"y":{"field":"p","type":"quantitative"},"text":{"field":"p","type":"quantitative","format":".2f"}}},
{"data":{"values":[{}]},"mark":{"type":"rect","color":"#ffffff"},"encoding":{"x":{"value":100},"x2":{"value":156},"y":{"value":0},"y2":{"value":15}}},
{"data":{"values":[{}]},"mark":{"type":"rect","color":"#00b400"},"encoding":{"x":{"value":191},"x2":{"value":240},"y":{"value":0},"y2":{"value":15}}},
{"data":{"values":[{}]},"mark":{"type":"rect","color":"#ffffff"},"encoding":{"x":{"value":242},"x2":{"value":300},"y":{"value":0},"y2":{"value":15}}},
{"data":{"values":[{}]},"mark":{"type":"rect","color":"#00c800"},"encoding":{"x":{"value":1582},"x2":{"value":1595},"y":{"value":689},"y2":{"value":705}}},
{"data":{"values":[{"t":"ESM17"}]},"mark":{"type":"text","color":"#ffffff","fontSize":11,"align":"left","baseline":"middle"},"encoding":{"x":{"value":4},"y":{"value":8},"text":{"field":"t"}}},
{"data":{"values":[{"t":"1 Min"}]},"mark":{"type":"text","color":"#ffffff","fontSize":11,"align":"left","baseline":"middle"},"encoding":{"x":{"value":48},"y":{"value":8},"text":{"field":"t"}}},
{"data":{"values":[{"t":"#8"}]},"mark":{"type":"text","color":"#ffffff","fontSize":11,"align":"left","baseline":"middle"},"encoding":{"x":{"value":86},"y":{"value":8},"text":{"field":"t"}}},
{"data":{"values":[{"t":"C: 2384.25"}]},"mark":{"type":"text","color":"#000000","fontSize":11,"align":"left","baseline":"middle"},"encoding":{"x":{"value":101},"y":{"value":8},"text":{"field":"t"}}},
{"data":{"values":[{"t":"T: 274"}]},"mark":{"type":"text","color":"#ffffff","fontSize":11,"align":"left","baseline":"middle"},"encoding":{"x":{"value":158},"y":{"value":8},"text":{"field":"t"}}},
{"data":{"values":[{"t":"Chg: 0.50"}]},"mark":{"type":"text","color":"#000000","fontSize":11,"align":"left","baseline":"middle"},"encoding":{"x":{"value":192},"y":{"value":8},"text":{"field":"t"}}},
{"data":{"values":[{"t":"DChg: 0.00"}]},"mark":{"type":"text","color":"#000000","fontSize":11,"align":"left","baseline":"middle"},"encoding":{"x":{"value":243},"y":{"value":8},"text":{"field":"t"}}},
{"data":{"values":[{"t":"2017-05-04 15:04:36 H: 2384.25 L: 2383.75 O: 2383.75 V: 840 B: 0.00 A: 0.00 0x0 TR: 24s BV: 62 AV: 778 DV: 0"}]},"mark":{"type":"text","color":"#ffffff","fontSize":11,"align":"left","baseline":"middle"},"encoding":{"x":{"value":304},"y":{"value":8},"text":{"field":"t"}}},
{"data":{"values":[{"t":"www.sierrachart.com"}]},"mark":{"type":"text","color":"#ffffff","fontSize":11.5,"align":"left","baseline":"middle"},"encoding":{"x":{"value":1},"y":{"value":679},"text":{"field":"t"}}},
{"data":{"values":[{"t":"0"}]},"mark":{"type":"text","color":"#ffffff","fontSize":11.5,"align":"center","baseline":"middle"},"encoding":{"x":{"value":1588.5},"y":{"value":697},"text":{"field":"t"}}}
]
}
